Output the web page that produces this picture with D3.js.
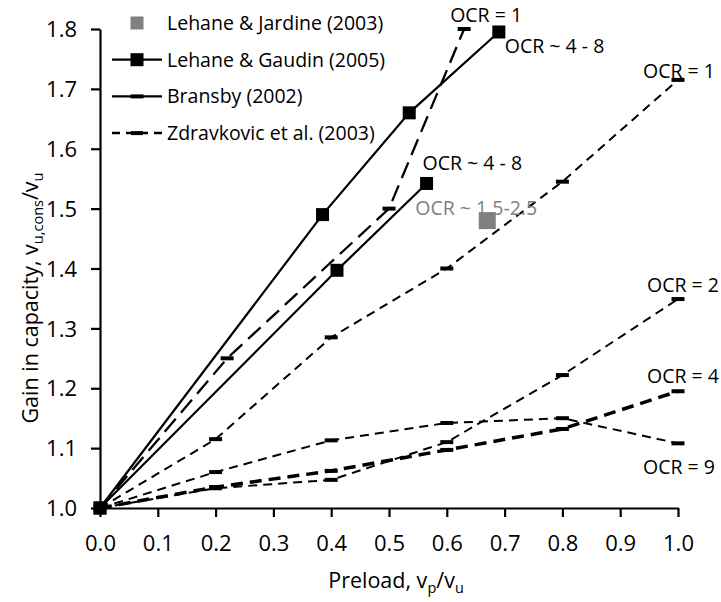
<!DOCTYPE html>
<html>
<head>
<meta charset="utf-8">
<script src="https://cdn.jsdelivr.net/npm/d3@7"></script>
<style>
  body { margin: 0; background: #fff; }
  svg text { font-family: "Open Sans", sans-serif; fill: #000; }
</style>
</head>
<body>
<svg></svg>
<script>
// tick labels
const xTicks = [0.0, 0.1, 0.2, 0.3, 0.4, 0.5, 0.6, 0.7, 0.8, 0.9, 1.0];
const yTicks = [1.0, 1.1, 1.2, 1.3, 1.4, 1.5, 1.6, 1.7, 1.8];

// Lehane & Jardine (2003) - single point
const jardineX = [0.67];
const jardineY = [1.48];

// Lehane & Gaudin (2005) - two tests
const gaudinAX = [0, 0.385, 0.535, 0.69];
const gaudinAY = [1.0, 1.49, 1.66, 1.795];
const gaudinBX = [0, 0.41, 0.565];
const gaudinBY = [1.0, 1.397, 1.542];

// Bransby (2002)
const bransbyX = [0, 0.22, 0.5, 0.63];
const bransbyY = [1.0, 1.25, 1.5, 1.8];

// Zdravkovic et al. (2003)
const zdravX = [0, 0.2, 0.4, 0.6, 0.8, 1.0];
const zdravOcr1 = [1.0, 1.115, 1.285, 1.4, 1.545, 1.715];
const zdravOcr2 = [1.0, 1.033, 1.047, 1.11, 1.222, 1.349];
const zdravOcr4 = [1.0, 1.035, 1.062, 1.097, 1.132, 1.195];
const zdravOcr9 = [1.0, 1.06, 1.113, 1.142, 1.15, 1.108];

const legendLabels = [
  "Lehane & Jardine (2003)",
  "Lehane & Gaudin (2005)",
  "Bransby (2002)",
  "Zdravkovic et al. (2003)",
];

const full_width = 721;
const full_height = 602;
const plot = { left: 100, right: 678, top: 29, bottom: 508 };

const svg = d3.select("svg").attr("width", full_width).attr("height", full_height);

const xScale = d3.scaleLinear().domain([0, 1]).range([plot.left, plot.right]);
const yScale = d3.scaleLinear().domain([1.0, 1.8]).range([plot.bottom, plot.top]);

const zip = (xs, ys) => xs.map((x, i) => [x, ys[i]]);
const line = d3.line().x((d) => xScale(d[0])).y((d) => yScale(d[1]));

// axes
const xAxis = svg
  .append("g")
  .attr("transform", `translate(0,${plot.bottom})`)
  .call(d3.axisBottom(xScale).tickValues(xTicks).tickFormat(d3.format(".1f")).tickSize(9).tickSizeOuter(0).tickPadding(18));
const yAxis = svg
  .append("g")
  .attr("transform", `translate(${plot.left},0)`)
  .call(d3.axisLeft(yScale).tickValues(yTicks).tickFormat(d3.format(".1f")).tickSize(9).tickSizeOuter(0).tickPadding(14));

[xAxis, yAxis].forEach((g) => {
  g.selectAll(".domain").attr("stroke", "#000").attr("stroke-width", 2.2);
  g.selectAll(".tick line").attr("stroke", "#000").attr("stroke-width", 2.2);
  g.selectAll(".tick text").attr("font-size", 22).attr("font-family", "Open Sans, sans-serif");
});
yAxis.selectAll(".tick text").attr("dy", "0.35em");

// axis titles
const xTitle = svg
  .append("text")
  .attr("x", 396)
  .attr("y", 588)
  .attr("text-anchor", "middle")
  .attr("font-size", 21.5);
xTitle.append("tspan").text("Preload, v");
xTitle.append("tspan").attr("font-size", 14.5).attr("dy", 5).text("p");
xTitle.append("tspan").attr("dy", -5).text("/v");
xTitle.append("tspan").attr("font-size", 14.5).attr("dy", 5).text("u");

const yTitle = svg
  .append("text")
  .attr("transform", "translate(38,298) rotate(-90)")
  .attr("text-anchor", "middle")
  .attr("font-size", 21.5);
yTitle.append("tspan").text("Gain in capacity, v");
yTitle.append("tspan").attr("font-size", 14.5).attr("dy", 5).text("u,cons");
yTitle.append("tspan").attr("dy", -5).text("/v");
yTitle.append("tspan").attr("font-size", 14.5).attr("dy", 5).text("u");

// dash marker helper
function dashMarkers(g, pts, w, h) {
  g.selectAll(null)
    .data(pts)
    .enter()
    .append("rect")
    .attr("x", (d) => xScale(d[0]) - w / 2)
    .attr("y", (d) => yScale(d[1]) - h / 2)
    .attr("width", w)
    .attr("height", h)
    .attr("fill", "#000");
}

const chart = svg.append("g");

// Zdravkovic et al. (2003)
const zdravSeries = [
  { ys: zdravOcr1, width: 2, dash: "9,6" },
  { ys: zdravOcr2, width: 2, dash: "9,6" },
  { ys: zdravOcr4, width: 3.5, dash: "12,7" },
  { ys: zdravOcr9, width: 2, dash: "9,6" },
];
zdravSeries.forEach((s) => {
  const pts = zip(zdravX, s.ys);
  chart
    .append("path")
    .attr("d", line(pts))
    .attr("fill", "none")
    .attr("stroke", "#000")
    .attr("stroke-width", s.width)
    .attr("stroke-dasharray", s.dash);
  dashMarkers(chart, pts.slice(1), 13, 4);
});

// Bransby (2002)
const bransbyPts = zip(bransbyX, bransbyY);
chart
  .append("path")
  .attr("d", line(bransbyPts))
  .attr("fill", "none")
  .attr("stroke", "#000")
  .attr("stroke-width", 2.3)
  .attr("stroke-dasharray", "17,8");
dashMarkers(chart, bransbyPts.slice(1), 13, 4);

// Lehane & Gaudin (2005)
[zip(gaudinAX, gaudinAY), zip(gaudinBX, gaudinBY)].forEach((pts) => {
  chart
    .append("path")
    .attr("d", line(pts))
    .attr("fill", "none")
    .attr("stroke", "#000")
    .attr("stroke-width", 2.2);
  chart
    .selectAll(null)
    .data(pts)
    .enter()
    .append("rect")
    .attr("x", (d) => xScale(d[0]) - 6.5)
    .attr("y", (d) => yScale(d[1]) - 6.5)
    .attr("width", 13)
    .attr("height", 13)
    .attr("fill", "#000");
});

// Lehane & Jardine (2003)
const jardinePts = zip(jardineX, jardineY);
chart
  .selectAll(null)
  .data(jardinePts)
  .enter()
  .append("rect")
  .attr("x", (d) => xScale(d[0]) - 8.5)
  .attr("y", (d) => yScale(d[1]) - 8.5)
  .attr("width", 17)
  .attr("height", 17)
  .attr("fill", "#808080");

// annotations, anchored to the series end points
const last = (xs, ys) => [xScale(xs[xs.length - 1]), yScale(ys[ys.length - 1])];
const notes = [
  { at: last(bransbyX, bransbyY), dx: -14, dy: -7, text: "OCR = 1", color: "#000" },
  { at: last(gaudinAX, gaudinAY), dx: 6, dy: 21, text: "OCR ~ 4 - 8", color: "#000" },
  { at: last(gaudinBX, gaudinBY), dx: -4, dy: -13, text: "OCR ~ 4 - 8", color: "#000" },
  { at: last(jardineX, jardineY), dx: -72, dy: -6, text: "OCR ~ 1.5-2.5", color: "#808080" },
  { at: last(zdravX, zdravOcr1), dx: -35, dy: -2, text: "OCR = 1", color: "#000" },
  { at: last(zdravX, zdravOcr2), dx: -31, dy: -7, text: "OCR = 2", color: "#000" },
  { at: last(zdravX, zdravOcr4), dx: -31, dy: -8, text: "OCR = 4", color: "#000" },
  { at: last(zdravX, zdravOcr9), dx: -35, dy: 31, text: "OCR = 9", color: "#000" },
];
svg
  .selectAll(".note")
  .data(notes)
  .enter()
  .append("text")
  .attr("class", "note")
  .attr("x", (d) => d.at[0] + d.dx)
  .attr("y", (d) => d.at[1] + d.dy)
  .attr("font-size", 19.5)
  .style("fill", (d) => d.color)
  .text((d) => d.text);

// legend
const legend = svg.append("g").attr("transform", "translate(112,23)");
const rowGap = 36.7;
legendLabels.forEach((label, i) => {
  const row = legend.append("g").attr("transform", `translate(0,${i * rowGap})`);
  if (i === 0) {
    row.append("rect").attr("x", 18.5).attr("y", -6.5).attr("width", 13).attr("height", 13).attr("fill", "#808080");
  } else if (i === 1) {
    row.append("line").attr("x1", 0).attr("x2", 50).attr("stroke", "#000").attr("stroke-width", 2.2);
    row.append("rect").attr("x", 18.5).attr("y", -6.5).attr("width", 13).attr("height", 13).attr("fill", "#000");
  } else if (i === 2) {
    row.append("line").attr("x1", 0).attr("x2", 50).attr("stroke", "#000").attr("stroke-width", 2.2);
    row.append("rect").attr("x", 18.5).attr("y", -2).attr("width", 13).attr("height", 4).attr("fill", "#000");
  } else {
    row.append("line").attr("x1", 0).attr("x2", 50).attr("stroke", "#000").attr("stroke-width", 2.5).attr("stroke-dasharray", "8,6");
    row.append("rect").attr("x", 19).attr("y", -2).attr("width", 12).attr("height", 4).attr("fill", "#000");
  }
  row
    .append("text")
    .attr("x", 55)
    .attr("y", 7)
    .attr("font-size", 19.5)
    .text(label);
});
</script>
</body>
</html>
